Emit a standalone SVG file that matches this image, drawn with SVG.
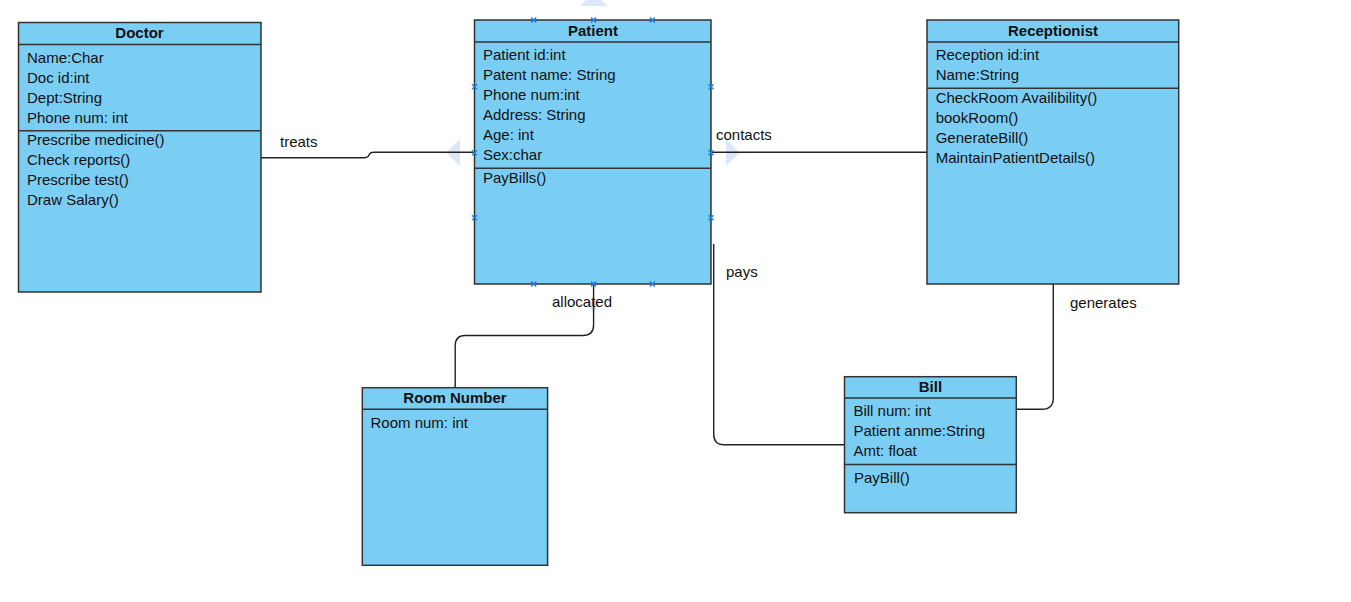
<svg xmlns="http://www.w3.org/2000/svg" width="1351" height="602" viewBox="0 0 1351 602">
<style>
.box{fill:#7acef4;stroke:#333;stroke-width:1.5}
.sep{stroke:#333;stroke-width:1.5;fill:none}
.t{font-family:"Liberation Sans",Arial,sans-serif;font-size:15px;fill:#111}
.h{font-family:"Liberation Sans",Arial,sans-serif;font-size:15px;font-weight:bold;fill:#111;text-anchor:middle}
.c{fill:none;stroke:#222;stroke-width:1.4}
.x{stroke:#1e7fe8;stroke-width:1.4;fill:none}
.g{fill:#dbe8fb}
</style>
<defs>
<path id="xm" class="x" d="M-2.5,-2.5L2.5,2.5M-2.5,2.5L2.5,-2.5"/>
</defs>
<g id="ghosts">
<polygon class="g" points="580,6 607,6 593.5,-8"/>
<polygon class="g" points="460,139 460,166 446,152.7"/>
<polygon class="g" points="726,139 726,166 740,152.7"/>
<polygon class="g" points="586,301 601,301 593.5,313"/>
</g>
<g id="connectors">
<path class="c" d="M261,157.7 H364 Q368,157.7 369,155 Q370,152.3 374,152.3 H474"/>
<path class="c" d="M711,152.3 H927"/>
<path class="c" d="M593.6,284 V325 Q593.6,335.5 583,335.5 H465 Q455.2,335.5 455.2,346 V388"/>
<path class="c" d="M713.7,244 V434 Q713.7,444.7 724,444.7 H844.5"/>
<path class="c" d="M1053.3,284 V398 Q1053.3,409.3 1042,409.3 H1016.3"/>
<text class="t" x="280" y="147">treats</text>
<text class="t" x="716" y="140">contacts</text>
<text class="t" x="726" y="277">pays</text>
<text class="t" x="552" y="307">allocated</text>
<text class="t" x="1070" y="308">generates</text>
</g>
<g id="doctor">
<rect class="box" x="18.5" y="22.5" width="242.5" height="269.5"/>
<path class="sep" d="M18.5,44.5H261M18.5,130.7H261"/>
<text class="h" x="139.5" y="38">Doctor</text>
<text class="t" x="27" y="63">Name:Char</text>
<text class="t" x="27" y="83">Doc id:int</text>
<text class="t" x="27" y="103">Dept:String</text>
<text class="t" x="27" y="123">Phone num: int</text>
<text class="t" x="27" y="145">Prescribe medicine()</text>
<text class="t" x="27" y="165">Check reports()</text>
<text class="t" x="27" y="185">Prescribe test()</text>
<text class="t" x="27" y="205">Draw Salary()</text>
</g>
<g id="patient">
<rect class="box" x="474.5" y="20" width="236.5" height="264"/>
<path class="sep" d="M474.5,42H711M474.5,168.3H711"/>
<text class="h" x="593" y="36">Patient</text>
<text class="t" x="483" y="60">Patient id:int</text>
<text class="t" x="483" y="80">Patent name: String</text>
<text class="t" x="483" y="100">Phone num:int</text>
<text class="t" x="483" y="120">Address: String</text>
<text class="t" x="483" y="140">Age: int</text>
<text class="t" x="483" y="160">Sex:char</text>
<text class="t" x="483" y="183">PayBills()</text>
<use href="#xm" x="533.7" y="20"/>
<use href="#xm" x="593.5" y="20"/>
<use href="#xm" x="652.3" y="20"/>
<use href="#xm" x="533.7" y="284"/>
<use href="#xm" x="593.5" y="284"/>
<use href="#xm" x="652.3" y="284"/>
<use href="#xm" x="474.5" y="86.7"/>
<use href="#xm" x="474.5" y="152.7"/>
<use href="#xm" x="474.5" y="217.7"/>
<use href="#xm" x="711" y="86.7"/>
<use href="#xm" x="711" y="152.7"/>
<use href="#xm" x="711" y="217.7"/>
</g>
<g id="receptionist">
<rect class="box" x="927" y="20" width="251.7" height="264"/>
<path class="sep" d="M927,42H1178.7M927,88.3H1178.7"/>
<text class="h" x="1053" y="36">Receptionist</text>
<text class="t" x="935.7" y="60">Reception id:int</text>
<text class="t" x="935.7" y="80">Name:String</text>
<text class="t" x="935.7" y="103">CheckRoom Availibility()</text>
<text class="t" x="935.7" y="123">bookRoom()</text>
<text class="t" x="935.7" y="143">GenerateBill()</text>
<text class="t" x="935.7" y="163">MaintainPatientDetails()</text>
</g>
<g id="room">
<rect class="box" x="362.3" y="387.7" width="185.3" height="177.6"/>
<path class="sep" d="M362.3,409.3H547.6"/>
<text class="h" x="455" y="403">Room Number</text>
<text class="t" x="370.5" y="428">Room num: int</text>
</g>
<g id="bill">
<rect class="box" x="844.5" y="376.7" width="171.8" height="136"/>
<path class="sep" d="M844.5,398H1016.3M844.5,464.5H1016.3"/>
<text class="h" x="930.4" y="392">Bill</text>
<text class="t" x="853.4" y="416">Bill num: int</text>
<text class="t" x="853.4" y="436">Patient anme:String</text>
<text class="t" x="853.4" y="456">Amt: float</text>
<text class="t" x="854" y="483">PayBill()</text>
</g>
</svg>
